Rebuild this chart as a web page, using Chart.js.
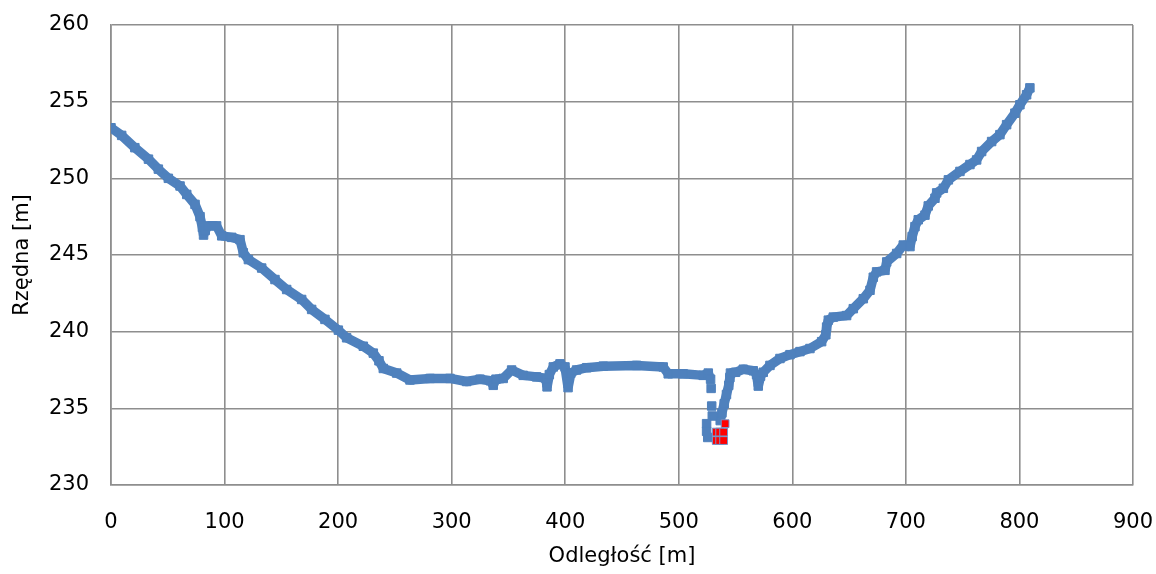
<!DOCTYPE html>
<html>
<head>
<meta charset="utf-8">
<script src="https://cdn.jsdelivr.net/npm/chart.js@4/dist/chart.umd.min.js"></script>
<style>
	body { margin: 0; background: #fff; }
	#wrap { width: 1156px; height: 574px; }
</style>
</head>
<body>
<div id="wrap"><canvas id="chart-profile" width="1156" height="574"></canvas></div>
<script>
// profil poprzeczny doliny - [odleglosc, rzedna]
var profileLeft = [
	[0, 253.3], [9.4, 252.8], [21, 252.0], [33, 251.25], [41.7, 250.6], [50.5, 250.0],
	[60.8, 249.5], [66.7, 248.95], [74, 248.3], [78.4, 247.5], [80.5, 246.8], [81.5, 246.3],
	[83, 246.6], [85.7, 246.9], [93, 246.9], [97.5, 246.25], [106.3, 246.15], [113.6, 246.0],
	[116.5, 245.15], [121, 244.7], [132.7, 244.15], [144.4, 243.4], [154.7, 242.75],
	[167.9, 242.1], [176.7, 241.45], [188.4, 240.8], [200.2, 240.1], [207.5, 239.6],
	[222.2, 239.05], [231, 238.6], [236, 238.1], [239.8, 237.6], [251.6, 237.3],
	[263.3, 236.85], [281, 236.95], [298.5, 236.95], [313.2, 236.75], [325, 236.9],
	[334, 236.8], [336.6, 236.5], [339, 236.9], [345.4, 236.95], [352.8, 237.5],
	[363, 237.15], [374.8, 237.05], [383, 236.95], [384, 236.4], [386, 237.2],
	[389.5, 237.7], [395.4, 237.9], [399.8, 237.7], [402.5, 236.35], [405, 237.3],
	[410, 237.5], [418.9, 237.65], [433.5, 237.75], [462.9, 237.8], [486.3, 237.7],
	[490.7, 237.25], [503.9, 237.25], [521.5, 237.15], [526, 237.3], [528, 236.9]
];
var notchPoints = [
	[528.5, 236.3], [529, 235.15], [529.5, 234.5],
	[524.5, 234.0], [524.5, 233.5], [525.5, 233.1]
];
var profileRight = [
	[536.5, 234.2], [538, 234.7], [540, 235.3], [542, 235.9], [544, 236.5], [545, 237.0],
	[545.5, 237.3], [550, 237.35], [556.8, 237.55], [565.6, 237.45], [568.5, 237.2],
	[570, 236.45], [572, 237.1], [574.4, 237.35], [580.3, 237.8], [589.1, 238.25],
	[597.9, 238.5], [606.7, 238.7], [615.5, 238.9], [625.8, 239.35], [629.5, 239.8],
	[630.2, 240.3], [631.7, 240.75], [636.1, 240.95], [647.8, 241.05], [653.7, 241.5],
	[662.5, 242.15], [668.4, 242.7], [671.3, 243.55], [674.2, 243.9], [681.6, 244.0],
	[683.1, 244.55], [691.9, 245.1], [697.7, 245.65], [703.6, 245.55], [705.5, 246.2],
	[708, 246.85], [710.9, 247.3], [716.8, 247.6], [719.7, 248.2], [725.6, 248.7],
	[727.1, 249.05], [733, 249.35], [737.4, 249.9], [747.6, 250.45], [756.4, 250.9],
	[762.3, 251.2], [766.7, 251.75], [775.5, 252.4], [782.8, 252.85], [788.7, 253.5],
	[796, 254.25], [800.4, 254.8], [806.3, 255.45], [809.2, 255.9]
];
// punkty dna koryta (czerwone)
var bedPoints = [
	[533, 232.9], [536, 232.9], [539.5, 232.9],
	[533, 233.45], [536, 233.45], [539.5, 233.45], [540.8, 234.0]
];

var xTicks = {min: 0, max: 900, step: 100};
var yTicks = {min: 230, max: 260, step: 5};

const BLUE = '#4F81BD';
const GRID = '#8e8e8e';
const FONT = {family: '"DejaVu Sans", sans-serif', size: 21};

function toXY(list) {
	return list.map(function (p) { return {x: p[0], y: p[1]}; });
}

function profileDataset(list, withLine) {
	return {
		data: toXY(list),
		showLine: withLine,
		borderColor: BLUE,
		backgroundColor: BLUE,
		borderWidth: 9.5,
		borderJoinStyle: 'bevel',
		pointStyle: 'rect',
		pointRadius: 6,
		pointBorderWidth: 1,
		pointBorderColor: BLUE,
		pointBackgroundColor: BLUE,
		order: 2
	};
}

var profileChartConfig = {
	type: 'scatter',
	data: {
		datasets: [
			{
				data: toXY(bedPoints),
				pointStyle: 'rect',
				pointRadius: 5.5,
				pointBorderWidth: 1,
				pointBorderColor: '#7394c9',
				pointBackgroundColor: '#ff0000',
				order: 1
			},
			profileDataset(profileLeft, true),
			profileDataset(notchPoints, false),
			profileDataset(profileRight, true)
		]
	},
	options: {
		responsive: false,
		animation: false,
		layout: {padding: {left: 0, right: 23, top: 25, bottom: 0}},
		plugins: {
			legend: {display: false},
			tooltip: {enabled: false}
		},
		scales: {
			x: {
				type: 'linear',
				min: xTicks.min,
				max: xTicks.max,
				afterFit: function (scale) {
					scale.height = 89;
					scale.paddingLeft = 0;
					scale.paddingRight = 0;
				},
				ticks: {stepSize: xTicks.step, padding: 25, color: '#000', font: FONT, maxRotation: 0},
				grid: {color: GRID, lineWidth: 1.6, drawTicks: false},
				border: {color: GRID, width: 1.6},
				title: {display: true, text: 'Odległość [m]', color: '#000', font: FONT, padding: {top: 0, bottom: 5}}
			},
			y: {
				type: 'linear',
				min: yTicks.min,
				max: yTicks.max,
				afterFit: function (scale) {
					scale.width = 111;
					scale.paddingTop = 0;
					scale.paddingBottom = 0;
				},
				ticks: {stepSize: yTicks.step, padding: 22, color: '#000', font: FONT},
				grid: {color: GRID, lineWidth: 1.6, drawTicks: false},
				border: {color: GRID, width: 1.6},
				title: {display: true, text: 'Rzędna [m]', color: '#000', font: FONT, padding: {top: 10, bottom: 0}}
			}
		}
	}
};

window.profileChart = new Chart(document.getElementById('chart-profile').getContext('2d'), profileChartConfig);
</script>
</body>
</html>
